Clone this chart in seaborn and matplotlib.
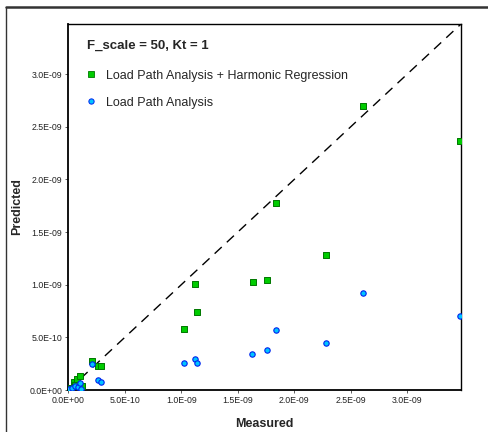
import numpy as np
import pandas as pd
import matplotlib
matplotlib.use("Agg")
import matplotlib.pyplot as plt
from matplotlib.lines import Line2D
import seaborn as sns

# measured vs predicted
lpa_hr_measured = [0.0, 0.02e-9, 0.05e-9, 0.06e-9, 0.08e-9, 0.105e-9, 0.118e-9,
                   0.213e-9, 0.26e-9, 0.287e-9, 1.027e-9, 1.118e-9, 1.142e-9,
                   1.633e-9, 1.760e-9, 1.837e-9, 2.278e-9, 2.612e-9, 3.470e-9]
lpa_hr_predicted = [0.0, 0.02e-9, 0.076e-9, 0.05e-9, 0.10e-9, 0.135e-9, 0.04e-9,
                    0.276e-9, 0.229e-9, 0.229e-9, 0.581e-9, 1.010e-9, 0.740e-9,
                    1.029e-9, 1.041e-9, 1.771e-9, 1.279e-9, 2.700e-9, 2.368e-9]

lpa_measured = [0.0, 0.01e-9, 0.03e-9, 0.06e-9, 0.089e-9, 0.11e-9, 0.104e-9,
                0.21e-9, 0.26e-9, 0.287e-9, 1.024e-9, 1.118e-9, 1.142e-9,
                1.630e-9, 1.757e-9, 1.834e-9, 2.278e-9, 2.612e-9, 3.470e-9]
lpa_predicted = [0.0, 0.01e-9, 0.02e-9, 0.04e-9, 0.032e-9, 0.013e-9, 0.07e-9,
                 0.244e-9, 0.092e-9, 0.073e-9, 0.260e-9, 0.292e-9, 0.260e-9,
                 0.343e-9, 0.381e-9, 0.571e-9, 0.451e-9, 0.921e-9, 0.702e-9]

ticks = [0.0, 0.5e-9, 1.0e-9, 1.5e-9, 2.0e-9, 2.5e-9, 3.0e-9]
tick_labels = ["0.0E+00", "5.0E-10", "1.0E-09", "1.5E-09", "2.0E-09", "2.5E-09", "3.0E-09"]
lim = 3.475e-9

sns.set_style("white")
plt.rcParams['font.family'] = ['Liberation Sans', 'DejaVu Sans']

fig = plt.figure(figsize=(4.89, 4.32), dpi=100)
ax = fig.add_axes([0.1397, 0.0972, 0.8030, 0.8472])

green_face, green_edge = '#00cc00', '#007700'
blue_face, blue_edge = '#00c4ff', '#0022ee'

ax.plot([0, lim], [0, lim], color='black', lw=1.0, dashes=(7, 5), zorder=1)

df_hr = pd.DataFrame({'Measured': lpa_hr_measured, 'Predicted': lpa_hr_predicted})
df_lpa = pd.DataFrame({'Measured': lpa_measured, 'Predicted': lpa_predicted})

sns.scatterplot(data=df_hr, x='Measured', y='Predicted', marker='s', s=20,
                color=green_face, edgecolor=green_edge, linewidth=0.7, ax=ax, zorder=3)
sns.scatterplot(data=df_lpa, x='Measured', y='Predicted', marker='o', s=15,
                color=blue_face, edgecolor=blue_edge, linewidth=0.8, ax=ax, zorder=4)

ax.set_xlim(0, lim)
ax.set_ylim(0, lim)
ax.set_xticks(ticks)
ax.set_xticklabels(tick_labels)
ax.set_yticks(ticks)
ax.set_yticklabels(tick_labels)
ax.tick_params(axis='both', which='both', direction='out', length=2.5, width=0.6,
               color='#444444', labelsize=6.3, labelcolor='#222222', pad=2,
               bottom=True, left=True)

for side in ['top', 'right', 'left', 'bottom']:
    ax.spines[side].set_color('black')
    ax.spines[side].set_linewidth(1.0)
ax.spines['left'].set_linewidth(1.3)
ax.spines['bottom'].set_linewidth(1.3)

ax.set_xlabel('Measured', fontsize=9, fontweight='bold')
ax.set_ylabel('Predicted', fontsize=9, fontweight='bold')
ax.xaxis.set_label_coords(0.5, -0.076)
ax.yaxis.set_label_coords(-0.114, 0.5)

handles = [
    Line2D([], [], ls='none', marker='s', markersize=3.8, markerfacecolor=green_face,
           markeredgecolor=green_edge, markeredgewidth=0.6),
    Line2D([], [], ls='none', marker='o', markersize=3.8, markerfacecolor=blue_face,
           markeredgecolor=blue_edge, markeredgewidth=0.7),
]
leg = ax.legend(handles, ['Load Path Analysis + Harmonic Regression', 'Load Path Analysis'],
                title='F_scale = 50, Kt = 1', loc='upper left',
                bbox_to_anchor=(0.022, 0.985), frameon=False, fontsize=9,
                title_fontproperties={'weight': 'bold', 'size': 9.5},
                alignment='left', handlelength=0.6, handletextpad=0.9,
                labelspacing=1.2, borderpad=0.3)
leg._legend_box.sep = 13

# outer frame of the original figure
fig.add_artist(Line2D([5.5 / 489, 1], [1 - 6.5 / 432, 1 - 6.5 / 432],
                      transform=fig.transFigure, color='#333333', lw=1.8))
fig.add_artist(Line2D([5.5 / 489, 5.5 / 489], [0, 1 - 6.5 / 432],
                      transform=fig.transFigure, color='#333333', lw=1.0))

fig.savefig('out.png', dpi=100)
